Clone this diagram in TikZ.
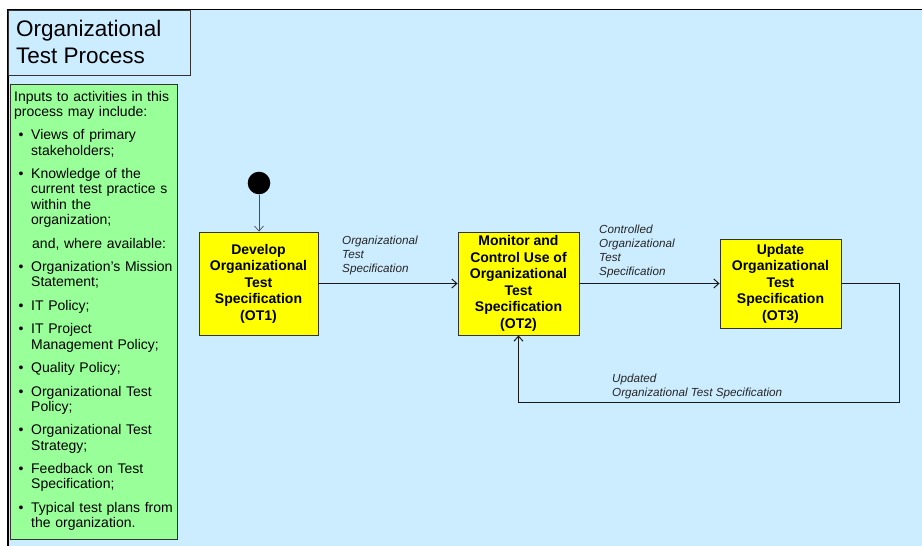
\documentclass[tikz,border=0pt]{standalone}
\usepackage{fontspec}
\setmainfont{Liberation Sans}
\usetikzlibrary{arrows.meta}
\definecolor{skyfill}{HTML}{CCECFF}
\definecolor{inputgreen}{HTML}{99FF99}
\definecolor{boxyellow}{HTML}{FFFF00}
\definecolor{edgegrey}{HTML}{333333}

% one bulleted entry of the inputs list (lines inside an entry break with \newline)
\newcommand\inputitem{\par\vspace{8.2pt}\hangindent=17pt\hangafter=1\noindent\makebox[17pt][l]{\hspace{4.5pt}\textbullet}\ignorespaces}

\begin{document}
\begin{tikzpicture}[x=1pt,y=-1pt,
  activity/.style={draw=edgegrey, line width=0.9pt, fill=boxyellow, align=center,
    inner sep=0pt, font=\bfseries\fontsize{14}{16.5}\selectfont},
  flowlabel/.style={anchor=base west, align=left, inner sep=0pt,
    font=\itshape\fontsize{11.7}{14}\selectfont, text=black!85},
  flow/.style={draw=black!90, line width=1pt, -{Straight Barb[length=5pt,width=9pt]}},
  panel/.style={draw=edgegrey, line width=1pt, anchor=north west, inner sep=0pt},
]
\useasboundingbox (0,0) rectangle (922,546);
\fill[white] (0,0) rectangle (922,546);
% process area
\draw[line width=1.2pt, fill=skyfill] (8,9.6) rectangle (940,560);

% title (base anchor sits on the last line)
\node[panel, fill=skyfill, minimum width=182pt, minimum height=64.5pt] (titlebox) at (8,10) {};
\node[anchor=base west, align=left, inner sep=0pt, font=\fontsize{22.5}{27}\selectfont] (title) at (16,63)
  {Organizational\\Test Process};

% inputs panel (base anchor sits on the first line)
\node[panel, fill=inputgreen, minimum width=167pt, minimum height=455pt] (inputsbox) at (10,84) {};
\node[anchor=base west, align=left, inner sep=0pt, text width=162pt,
      font=\fontsize{14}{15.3}\selectfont] (inputs) at (14,101) {%
Inputs to activities in this\newline process may include:
\inputitem Views of primary\newline stakeholders;
\inputitem Knowledge of the\newline current test practice s\newline within the\newline organization;
\par\vspace{8.2pt}\noindent\hspace*{18pt}and, where available:
\inputitem Organization's Mission\newline Statement;
\inputitem IT Policy;
\inputitem IT Project\newline Management Policy;
\inputitem Quality Policy;
\inputitem Organizational Test\newline Policy;
\inputitem Organizational Test\newline Strategy;
\inputitem Feedback on Test\newline Specification;
\inputitem Typical test plans from\newline the organization.\par};

% activities
\node[circle, fill=black, minimum size=22.6pt, inner sep=0pt] (start) at (259,183) {};
\node[activity, minimum width=119pt, minimum height=103pt] (ot1) at (258.5,283.5)
  {Develop\\Organizational\\Test\\Specification\\(OT1)};
\node[activity, minimum width=121pt, minimum height=103pt] (ot2) at (518.5,283.5)
  {Monitor and\\Control Use of\\Organizational\\Test\\Specification\\(OT2)};
\node[activity, minimum width=121pt, minimum height=89pt] (ot3) at (780.5,283.5)
  {Update\\Organizational\\Test\\Specification\\(OT3)};
\coordinate (loopcorner) at (899,402);

% flows
\draw[flow, line width=0.7pt, draw=black!70] (start) -- (start |- ot1.north);
\draw[flow] (ot1) -- (ot2);
\draw[flow] (ot2) -- (ot3);
\draw[flow] (ot3.east) -| (loopcorner) -| (ot2.south);

% flow labels (base anchor on the last line)
\node[flowlabel] (lab12) at (342,272) {Organizational\\Test\\Specification};
\node[flowlabel] (lab23) at (599,275) {Controlled\\Organizational\\Test\\Specification};
\node[flowlabel] (lab32) at (612,396) {Updated\\Organizational Test Specification};
\end{tikzpicture}
\end{document}
